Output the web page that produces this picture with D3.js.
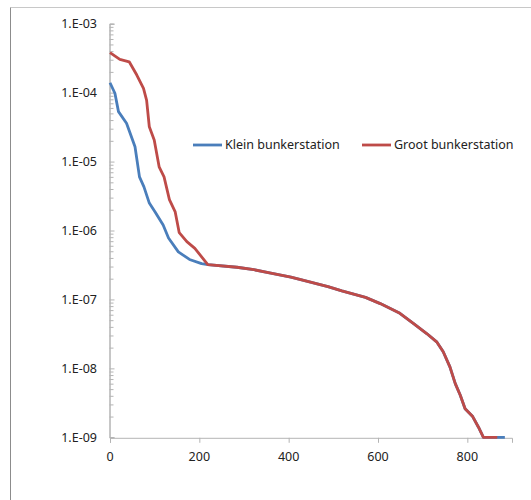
<!DOCTYPE html>
<html>
<head>
<meta charset="utf-8">
<script src="https://cdn.jsdelivr.net/npm/d3@7"></script>
<style>
  body { margin: 0; background: #fff; }
  svg { font-family: "Noto Sans", sans-serif; }
</style>
</head>
<body>
<div id="chart"></div>
<script>
const WIDTH = 531;
const HEIGHT = 500;

// values (x, probability)
const kleinX = [0, 11, 19, 37, 56, 66, 76, 88, 101, 119, 131, 153, 178, 205, 219,
  284, 322, 360, 405, 451, 488, 519, 572, 605, 649, 679, 709, 732, 746, 761, 773, 784, 795, 812, 825, 836, 867, 884];
const kleinY = [1.39e-4, 9.8e-5, 5.3e-5, 3.6e-5, 1.64e-5, 6.0e-6, 4.3e-6, 2.5e-6, 1.86e-6, 1.2e-6, 7.8e-7, 4.9e-7, 3.8e-7, 3.3e-7, 3.2e-7,
  2.93e-7, 2.7e-7, 2.4e-7, 2.1e-7, 1.77e-7, 1.53e-7, 1.33e-7, 1.07e-7, 8.7e-8, 6.3e-8, 4.5e-8, 3.2e-8, 2.4e-8, 1.74e-8, 1.05e-8, 6.0e-9, 4.1e-9, 2.6e-9, 2.0e-9, 1.4e-9, 1e-9, 1e-9, 1e-9];

const grootX = [0, 22, 43, 60, 75, 82, 88, 99, 110, 121, 133, 146, 155, 172, 190, 219,
  284, 322, 360, 405, 451, 488, 519, 572, 605, 649, 679, 709, 732, 746, 761, 773, 784, 795, 812, 825, 836, 867];
const grootY = [3.8e-4, 3.04e-4, 2.8e-4, 1.8e-4, 1.15e-4, 7.7e-5, 3.2e-5, 2.05e-5, 8.4e-6, 6.0e-6, 2.8e-6, 1.86e-6, 9.3e-7, 6.9e-7, 5.5e-7, 3.2e-7,
  2.93e-7, 2.7e-7, 2.4e-7, 2.1e-7, 1.77e-7, 1.53e-7, 1.33e-7, 1.07e-7, 8.7e-8, 6.3e-8, 4.5e-8, 3.2e-8, 2.4e-8, 1.74e-8, 1.05e-8, 6.0e-9, 4.1e-9, 2.6e-9, 2.0e-9, 1.4e-9, 1e-9, 1e-9];

const seriesNames = ["Klein bunkerstation", "Groot bunkerstation"];
const seriesColors = ["#4a7ebb", "#be4b48"];
const xTicks = [0, 200, 400, 600, 800];
const yTicks = [1e-3, 1e-4, 1e-5, 1e-6, 1e-7, 1e-8, 1e-9];
const yTickLabels = ["1.E-03", "1.E-04", "1.E-05", "1.E-06", "1.E-07", "1.E-08", "1.E-09"];

const plot = {left: 110, right: 512, top: 23.7, bottom: 437.3};

const svg = d3.select("#chart").append("svg")
    .attr("width", WIDTH)
    .attr("height", HEIGHT);

// chart frame
svg.append("line").attr("x1", 10.5).attr("x2", WIDTH).attr("y1", 7.5).attr("y2", 7.5)
    .attr("stroke", "#c8c8c8");
svg.append("line").attr("x1", 10.5).attr("x2", 10.5).attr("y1", 7.5).attr("y2", HEIGHT)
    .attr("stroke", "#8c8c8c");

let xScale = d3.scaleLinear().domain([0, 900]).range([plot.left, plot.right]);
let yScale = d3.scaleLog().domain([1e-9, 1e-3]).range([plot.bottom, plot.top]);

// minor ticks of the log axis
let minorTicks = [];
for (let e = -9; e < -3; e++) {
  for (let m = 2; m <= 9; m++) minorTicks.push(m * Math.pow(10, e));
}
let yAxisMinor = d3.axisRight(yScale).tickValues(minorTicks).tickSize(4).tickFormat("");
let yAxisG = svg.append("g")
    .attr("transform", "translate(" + (plot.left - 0.5) + ",0)")
    .call(yAxisMinor);
let yAxisMajor = d3.axisRight(yScale).tickValues(yTicks).tickSize(5).tickFormat("");
svg.append("g")
    .attr("transform", "translate(" + (plot.left - 0.5) + ",0)")
    .call(yAxisMajor);

// y labels
svg.append("g").selectAll("text")
    .data(yTicks)
  .enter().append("text")
    .attr("x", 97)
    .attr("y", d => yScale(d))
    .attr("dy", "0.35em")
    .attr("text-anchor", "end")
    .attr("font-size", "12.5px")
    .attr("fill", "#222")
    .text((d, i) => yTickLabels[i]);

// x axis
let xAxis = d3.axisBottom(xScale).tickValues(xTicks).tickSize(5).tickFormat("");
svg.append("g")
    .attr("transform", "translate(0," + (plot.bottom + 0.5) + ")")
    .call(xAxis);
svg.append("g").selectAll("text")
    .data(xTicks)
  .enter().append("text")
    .attr("x", d => xScale(d))
    .attr("y", 457)
    .attr("dy", "0.35em")
    .attr("text-anchor", "middle")
    .attr("font-size", "12.5px")
    .attr("fill", "#222")
    .text(d => d);

svg.selectAll(".domain, .tick line").attr("stroke", "#b4b4b4");

// lines
let line = d3.line()
    .x(d => xScale(d[0]))
    .y(d => yScale(d[1]));
const series = [
  d3.zip(kleinX, kleinY),
  d3.zip(grootX, grootY)
];
series.forEach((s, i) => {
  svg.append("path")
      .datum(s)
      .attr("fill", "none")
      .attr("stroke", seriesColors[i])
      .attr("stroke-width", 2.8)
      .attr("stroke-linejoin", "round")
      .attr("d", line);
});

// legend
const legendX = [193, 362];
const legendY = 145;
seriesNames.forEach((name, i) => {
  let g = svg.append("g").attr("transform", "translate(" + legendX[i] + "," + legendY + ")");
  g.append("line").attr("x1", 0).attr("x2", 29).attr("y1", 0).attr("y2", 0)
      .attr("stroke", seriesColors[i]).attr("stroke-width", 2.8);
  g.append("text")
      .attr("x", 32)
      .attr("y", 0)
      .attr("dy", "0.35em")
      .attr("font-size", "12.5px")
      .attr("fill", "#222")
      .text(name);
});
</script>
</body>
</html>
